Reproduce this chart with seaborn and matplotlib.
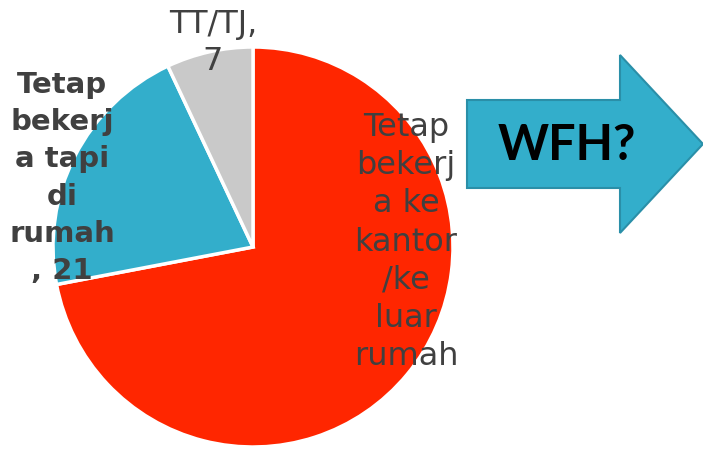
import matplotlib
matplotlib.use('Agg')
import matplotlib.pyplot as plt
from matplotlib.patches import Polygon
import seaborn as sns

# data
categories = ['Tetap bekerja ke kantor/ke luar rumah', 'Tetap bekerja tapi di rumah', 'TT/TJ']
values = [72, 21, 7]
colors = ['#FF2600', '#33AECB', '#C9C9C9']
label_lines = [
    'Tetap\nbekerj\na ke\nkantor\n/ke\nluar\nrumah',
    'Tetap\nbekerj\na tapi\ndi\nrumah\n, 21',
    'TT/TJ,\n7',
]

sns.set_theme(style='white')
plt.rcParams['font.family'] = ['DejaVu Sans']

W, H = 703, 449
fig = plt.figure(figsize=(W / 100, H / 100), dpi=100)
ax = fig.add_axes([0, 0, 1, 1])

# pie placed in pixel-like coordinates (y up)
ax.pie(values, colors=colors, startangle=90, counterclock=False,
       center=(253, H - 247), radius=200,
       wedgeprops={'edgecolor': 'white', 'linewidth': 2.5})
ax.set_xlim(0, W)
ax.set_ylim(0, H)
ax.set_aspect('equal')
ax.axis('off')

txt_color = '#404040'
ax.text(406, H - 242, label_lines[0], ha='center', va='center', fontsize=23,
        color=txt_color, linespacing=1.3)
ax.text(62, H - 178, label_lines[1], ha='center', va='center', fontsize=21,
        color=txt_color, fontweight='bold', linespacing=1.42)
ax.text(213, H - 43, label_lines[2], ha='center', va='center', fontsize=23,
        color=txt_color, linespacing=1.28)

# the "WFH?" arrow on the right
arrow_pts = [(467, 100), (620, 100), (620, 55), (703, 144), (620, 233),
             (620, 188), (467, 188)]
ax.add_patch(Polygon([(x, H - y) for x, y in arrow_pts], closed=True,
                     facecolor='#33AECB', edgecolor='#2A8FA8', linewidth=1.5,
                     clip_on=False))
ax.text(567, H - 146, 'WFH?', ha='center', va='center', fontsize=35,
        fontweight='bold', family=['Lato', 'DejaVu Sans'], color='black')

fig.savefig('out.png', dpi=100)
